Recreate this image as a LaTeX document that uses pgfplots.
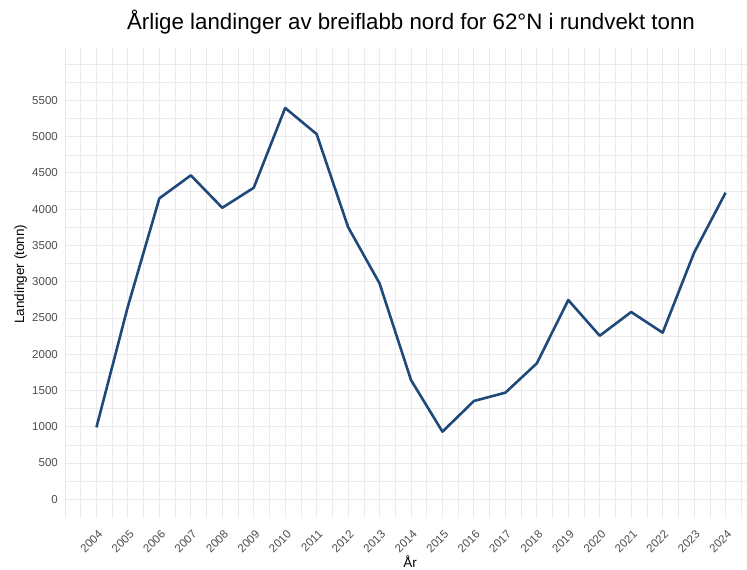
\documentclass[border=0pt]{standalone}
\usepackage{pgfplots}
\pgfplotsset{compat=1.18}
\usepackage{fontspec}
\setmainfont{Liberation Sans}
\definecolor{linecol}{RGB}{31,73,120}
\definecolor{gridcol}{RGB}{235,235,235}
\definecolor{tickcol}{RGB}{77,77,77}
\begin{document}
\begin{tikzpicture}
\useasboundingbox (0,0) rectangle (747bp,570bp);
\begin{axis}[
  at={(65bp,52bp)}, anchor=south west,
  scale only axis, width=692bp, height=470bp,
  xmin=2003, xmax=2025, ymin=-258, ymax=6222,
  axis line style={draw=none},
  tick style={draw=none},
  xtick={2004,...,2024},
  ytick={0,500,...,5500},
  minor xtick={2003,2003.5,2004.5,...,2024.5},
  minor ytick={250,750,...,5750,6000},
  grid=both,
  major grid style={gridcol, line width=0.9bp},
  minor grid style={gridcol, line width=0.5bp},
  /pgf/number format/.cd, 1000 sep={}, assume math mode=true,
  /pgfplots/.cd,
  ticklabel style={font=\fontsize{11.5bp}{13bp}\selectfont, text=tickcol},
  yticklabel style={anchor=east, inner sep=0pt, xshift=-7bp},
  xticklabel style={xshift=1bp, yshift=-11bp, rotate=45, anchor=north east, inner sep=0pt},
  title={Årlige landinger av breiflabb nord for 62°N i rundvekt tonn},
  title style={font=\fontsize{22.3bp}{26bp}\selectfont, at={(axis description cs:0.5,1.0426)}, anchor=center},
  xlabel={År},
  xlabel style={font=\fontsize{13.5bp}{16bp}\selectfont, at={(axis description cs:0.4986,-0.093)}, anchor=center},
  ylabel={Landinger (tonn)},
  ylabel style={font=\fontsize{13.5bp}{16bp}\selectfont, at={(axis description cs:-0.064,0.519)}, anchor=center},
  clip=false,
]
\addplot[color=linecol, line width=2.6bp, line join=round, line cap=butt] coordinates {
(2004,992) (2005,2660) (2006,4149) (2007,4466) (2008,4019) (2009,4295)
(2010,5395) (2011,5035) (2012,3753) (2013,2977) (2014,1644) (2015,932)
(2016,1355) (2017,1470) (2018,1874) (2019,2747) (2020,2255) (2021,2582)
(2022,2297) (2023,3400) (2024,4226)
};
\end{axis}
\end{tikzpicture}
\end{document}
